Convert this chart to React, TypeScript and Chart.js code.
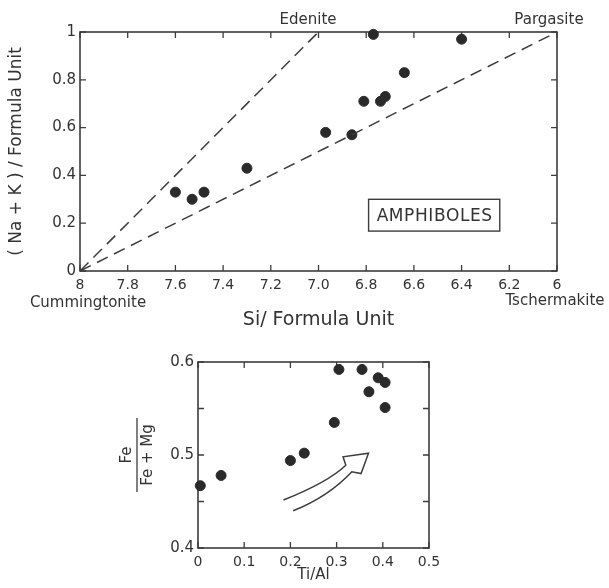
import React, { useEffect, useRef } from 'react';
import { Chart, registerables } from 'chart.js';
Chart.register(...registerables);

// ---------- Data: amphiboles (top panel) ----------
const amphSi = [7.6, 7.53, 7.48, 7.3, 6.97, 6.86, 6.81, 6.74, 6.72, 6.64, 6.77, 6.4];
const amphNaK = [0.33, 0.3, 0.33, 0.43, 0.58, 0.57, 0.71, 0.71, 0.73, 0.83, 0.99, 0.97];
const siTickValues = [6, 6.2, 6.4, 6.6, 6.8, 7, 7.2, 7.4, 7.6, 7.8, 8];
const siTickLabels = ['6', '6.2', '6.4', '6.6', '6.8', '7.0', '7.2', '7.4', '7.6', '7.8', '8'];
const nakTickValues = [0, 0.2, 0.4, 0.6, 0.8, 1];
const nakTickLabels = ['0', '0.2', '0.4', '0.6', '0.8', '1'];
const edeniteSi = [8, 7];
const edeniteNaK = [0, 1];
const pargasiteSi = [8, 6];
const pargasiteNaK = [0, 1];
const amphBoxSi = [6.79, 6.24];
const amphBoxNaK = [0.3, 0.167];

// ---------- Data: Fe/(Fe+Mg) vs Ti/Al (bottom panel) ----------
const tiAl = [0.005, 0.05, 0.2, 0.23, 0.295, 0.305, 0.355, 0.37, 0.39, 0.405, 0.405];
const feRatio = [0.467, 0.478, 0.494, 0.502, 0.535, 0.592, 0.592, 0.568, 0.583, 0.578, 0.551];
const tiTickValues = [0, 0.1, 0.2, 0.3, 0.4, 0.5];
const tiTickLabels = ['0', '0.1', '0.2', '0.3', '0.4', '0.5'];
const feTickValues = [0.4, 0.45, 0.5, 0.55, 0.6];
const feTickLabels = ['0.4', '', '0.5', '', '0.6'];
// hollow arrow outline (Ti/Al, Fe ratio)
const arrowTiAl = [0.185, 0.281, 0.32, 0.314, 0.369, 0.353, 0.333, 0.282, 0.206];
const arrowFe = [0.4516, 0.4706, 0.489, 0.498, 0.502, 0.48, 0.482, 0.455, 0.44];

const FONT = 'DejaVu Sans';
const INK = '#333333';
const LINE = '#3c3c3c';

function pts(xs: number[], ys: number[]) {
  return xs.map((x, i) => ({ x, y: ys[i] }));
}

function frameAndTicks(chart: any) {
  const { ctx, chartArea: a, scales } = chart;
  const xs = scales.x;
  const ys = scales.y;
  const L = 6;
  ctx.save();
  ctx.strokeStyle = LINE;
  ctx.lineWidth = 1.6;
  ctx.strokeRect(a.left, a.top, a.right - a.left, a.bottom - a.top);
  ctx.lineWidth = 1.3;
  ctx.beginPath();
  xs.ticks.forEach((t: any) => {
    const p = xs.getPixelForValue(t.value);
    ctx.moveTo(p, a.bottom);
    ctx.lineTo(p, a.bottom - L);
    ctx.moveTo(p, a.top);
    ctx.lineTo(p, a.top + L);
  });
  ys.ticks.forEach((t: any) => {
    const p = ys.getPixelForValue(t.value);
    ctx.moveTo(a.left, p);
    ctx.lineTo(a.left + L, p);
    ctx.moveTo(a.right, p);
    ctx.lineTo(a.right - L, p);
  });
  ctx.stroke();
  ctx.restore();
}

const topPlugin = {
  id: 'topDecor',
  beforeDatasetsDraw(chart: any) {
    frameAndTicks(chart);
  },
  afterDraw(chart: any) {
    const { ctx, scales } = chart;
    ctx.save();
    ctx.fillStyle = INK;
    ctx.textAlign = 'center';
    ctx.textBaseline = 'middle';
    ctx.font = `15px "${FONT}"`;
    ctx.fillText('Edenite', 308, 20);
    ctx.fillText('Pargasite', 549, 20);
    ctx.fillText('Cummingtonite', 88, 303);
    ctx.fillText('Tschermakite', 555, 301);
    // AMPHIBOLES box
    const x0 = scales.x.getPixelForValue(amphBoxSi[0]);
    const x1 = scales.x.getPixelForValue(amphBoxSi[1]);
    const y0 = scales.y.getPixelForValue(amphBoxNaK[0]);
    const y1 = scales.y.getPixelForValue(amphBoxNaK[1]);
    ctx.strokeStyle = LINE;
    ctx.lineWidth = 1.4;
    ctx.strokeRect(x0, y0, x1 - x0, y1 - y0);
    ctx.font = `17px "${FONT}"`;
    (ctx as any).letterSpacing = '0.6px';
    ctx.fillText('AMPHIBOLES', (x0 + x1) / 2 + 0.5, (y0 + y1) / 2 + 1);
    (ctx as any).letterSpacing = '0px';
    ctx.restore();
  },
};

const bottomPlugin = {
  id: 'bottomDecor',
  beforeDatasetsDraw(chart: any) {
    frameAndTicks(chart);
  },
  afterDraw(chart: any) {
    const { ctx, scales } = chart;
    ctx.save();
    // arrow
    const P = (i: number) => [scales.x.getPixelForValue(arrowTiAl[i]), scales.y.getPixelForValue(arrowFe[i])];
    ctx.strokeStyle = LINE;
    ctx.lineWidth = 1.5;
    ctx.lineJoin = 'miter';
    ctx.beginPath();
    let p = P(0);
    ctx.moveTo(p[0], p[1]);
    let c = P(1);
    p = P(2);
    ctx.quadraticCurveTo(c[0], c[1], p[0], p[1]);
    for (const i of [3, 4, 5, 6]) {
      p = P(i);
      ctx.lineTo(p[0], p[1]);
    }
    c = P(7);
    p = P(8);
    ctx.quadraticCurveTo(c[0], c[1], p[0], p[1]);
    ctx.stroke();
    // fraction y title
    ctx.translate(137, 115);
    ctx.rotate(-Math.PI / 2);
    ctx.fillStyle = INK;
    ctx.textAlign = 'center';
    ctx.textBaseline = 'middle';
    ctx.font = `15px "${FONT}"`;
    ctx.fillText('Fe', 0, -10);
    ctx.fillText('Fe + Mg', 0, 11);
    ctx.beginPath();
    ctx.lineWidth = 1.3;
    ctx.moveTo(-37, 0);
    ctx.lineTo(37, 0);
    ctx.stroke();
    ctx.restore();
  },
};

export default function App() {
  const topRef = useRef<HTMLCanvasElement>(null);
  const botRef = useRef<HTMLCanvasElement>(null);

  useEffect(() => {
    const top = new Chart(topRef.current as HTMLCanvasElement, {
      type: 'scatter',
      data: {
        datasets: [
          {
            type: 'line',
            data: pts(edeniteSi, edeniteNaK),
            borderColor: LINE,
            borderWidth: 1.5,
            borderDash: [12, 7],
            pointRadius: 0,
            fill: false,
            clip: false as any,
          },
          {
            type: 'line',
            data: pts(pargasiteSi, pargasiteNaK),
            borderColor: LINE,
            borderWidth: 1.5,
            borderDash: [12, 7],
            pointRadius: 0,
            fill: false,
            clip: false as any,
          },
          {
            data: pts(amphSi, amphNaK),
            backgroundColor: '#2a2a2a',
            borderColor: '#2a2a2a',
            pointRadius: 5,
            clip: false as any,
          },
        ] as any,
      },
      options: {
        animation: false,
        responsive: false,
        devicePixelRatio: 1,
        layout: { padding: { left: 0, right: 52, top: 32, bottom: 0 } },
        plugins: { legend: { display: false }, tooltip: { enabled: false } },
        scales: {
          x: {
            type: 'linear',
            min: 6,
            max: 8,
            reverse: true,
            grid: { display: false, drawTicks: false },
            border: { display: false },
            afterBuildTicks: (s: any) => {
              s.ticks = siTickValues.map((v) => ({ value: v }));
            },
            afterFit: (s: any) => {
              s.height = 340 - 271;
            },
            ticks: {
              autoSkip: false,
              maxRotation: 0,
              padding: 6,
              color: INK,
              font: { family: FONT, size: 14 },
              callback: (_v: any, i: number) => siTickLabels[i],
            },
            title: {
              display: true,
              text: 'Si/ Formula Unit',
              color: INK,
              font: { family: FONT, size: 19 },
              padding: { top: 0, bottom: 8.6 },
            },
          },
          y: {
            type: 'linear',
            min: 0,
            max: 1,
            grid: { display: false, drawTicks: false },
            border: { display: false },
            afterBuildTicks: (s: any) => {
              s.ticks = nakTickValues.map((v) => ({ value: v }));
            },
            afterFit: (s: any) => {
              s.width = 80;
            },
            ticks: {
              autoSkip: false,
              padding: 4,
              color: INK,
              font: { family: FONT, size: 15 },
              callback: (_v: any, i: number) => nakTickLabels[i],
            },
            title: {
              display: true,
              text: '( Na + K ) / Formula Unit',
              color: INK,
              font: { family: FONT, size: 17 },
              padding: { top: 6, bottom: 0 },
            },
          },
        },
      } as any,
      plugins: [topPlugin],
    });

    const bottom = new Chart(botRef.current as HTMLCanvasElement, {
      type: 'scatter',
      data: {
        datasets: [
          {
            data: pts(tiAl, feRatio),
            backgroundColor: '#2a2a2a',
            borderColor: '#2a2a2a',
            pointRadius: 5,
            clip: false as any,
          },
        ] as any,
      },
      options: {
        animation: false,
        responsive: false,
        devicePixelRatio: 1,
        layout: { padding: { left: 0, right: 180, top: 22, bottom: 0 } },
        plugins: { legend: { display: false }, tooltip: { enabled: false } },
        scales: {
          x: {
            type: 'linear',
            min: 0,
            max: 0.5,
            grid: { display: false, drawTicks: false },
            border: { display: false },
            afterBuildTicks: (s: any) => {
              s.ticks = tiTickValues.map((v) => ({ value: v }));
            },
            afterFit: (s: any) => {
              s.height = 248 - 208;
            },
            ticks: {
              autoSkip: false,
              maxRotation: 0,
              padding: 6,
              color: INK,
              font: { family: FONT, size: 14 },
              callback: (_v: any, i: number) => tiTickLabels[i],
            },
            title: {
              display: true,
              text: 'Ti/Al',
              color: INK,
              font: { family: FONT, size: 15 },
              padding: { top: 0, bottom: 4 },
            },
          },
          y: {
            type: 'linear',
            min: 0.4,
            max: 0.6,
            grid: { display: false, drawTicks: false },
            border: { display: false },
            afterBuildTicks: (s: any) => {
              s.ticks = feTickValues.map((v) => ({ value: v }));
            },
            afterFit: (s: any) => {
              s.width = 198;
            },
            ticks: {
              autoSkip: false,
              padding: 4,
              color: INK,
              font: { family: FONT, size: 15 },
              callback: (_v: any, i: number) => feTickLabels[i],
            },
          },
        },
      } as any,
      plugins: [bottomPlugin],
    });

    return () => {
      top.destroy();
      bottom.destroy();
    };
  }, []);

  return (
    <div style={{ position: 'fixed', left: 0, top: 0, width: 609, height: 588, background: '#fff' }}>
      <canvas ref={topRef} width={609} height={340} style={{ position: 'absolute', left: 0, top: 0 }} />
      <canvas ref={botRef} width={609} height={248} style={{ position: 'absolute', left: 0, top: 340 }} />
    </div>
  );
}
